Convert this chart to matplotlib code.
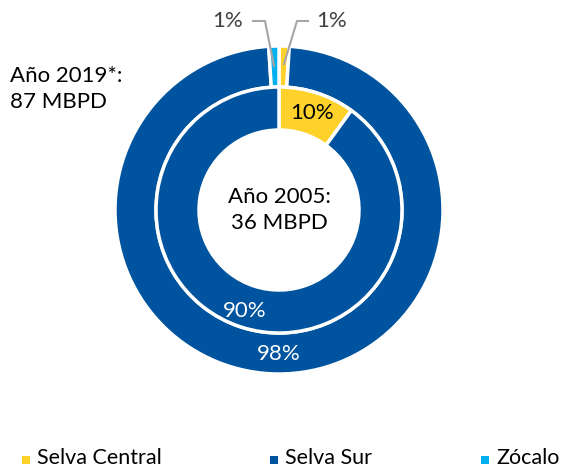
import matplotlib.pyplot as plt
from matplotlib.patches import Rectangle

# data
categories = ['Selva Central', 'Selva Sur', 'Zócalo']
colors = ['#FFD22B', '#00539E', '#00B0F0']
outer_values = [1, 98, 1]   # Año 2019*
inner_values = [10, 90]     # Año 2005
outer_title = 'Año 2019*:\n87 MBPD'
inner_title = 'Año 2005:\n36 MBPD'

plt.rcParams['font.family'] = ['Lato', 'DejaVu Sans']

W, H = 561, 468
fig = plt.figure(figsize=(W / 100, H / 100), dpi=100)
ax = fig.add_axes([0, 0, 1, 1])

cx, cy = 279, H - 210
wedge_kw = dict(edgecolor='white', linewidth=2.5)

ax.pie(outer_values, colors=colors, radius=164, center=(cx, cy),
       startangle=90, counterclock=False, frame=True,
       wedgeprops=dict(width=41, **wedge_kw))
ax.pie(inner_values, colors=colors[:2], radius=123, center=(cx, cy),
       startangle=90, counterclock=False, frame=True,
       wedgeprops=dict(width=43, **wedge_kw))
ax.set_xlim(0, W)
ax.set_ylim(0, H)
ax.set_aspect('equal')
ax.set_axis_off()

fs = 16
# value labels
ax.text(cx + 33, H - 113, f'{inner_values[0]}%', ha='center', va='center',
        fontsize=fs, color='black')
ax.text(cx - 34, H - 311, f'{inner_values[1]}%', ha='center', va='center',
        fontsize=fs, color='white')
ax.text(cx, H - 354, f'{outer_values[1]}%', ha='center', va='center',
        fontsize=fs, color='white')

# small slices with leader lines
grey = '#A6A6A6'
ax.plot([253, 265, 274], [H - 21, H - 21, H - 66], color=grey, lw=1.5)
ax.plot([308, 297, 284], [H - 21, H - 21, H - 64], color=grey, lw=1.5)
ax.text(243, H - 21, f'{outer_values[2]}%', ha='right', va='center',
        fontsize=fs, color='#404040')
ax.text(316, H - 21, f'{outer_values[0]}%', ha='left', va='center',
        fontsize=fs, color='#404040')

# titles
ax.text(cx, H - 210, inner_title, ha='center', va='center',
        fontsize=fs, color='black', linespacing=1.35)
ax.text(10, H - 89, outer_title, ha='left', va='center',
        fontsize=fs, color='black', linespacing=1.35)

# legend along the bottom
leg_x = [22, 270, 481]
for x, c, name in zip(leg_x, colors, categories):
    ax.add_patch(Rectangle((x, H - 464), 8, 8, facecolor=c, edgecolor='none'))
    ax.text(x + 15, H - 464, name, ha='left', va='baseline',
            fontsize=15.5, color='black')

fig.savefig('out.png', dpi=100)
